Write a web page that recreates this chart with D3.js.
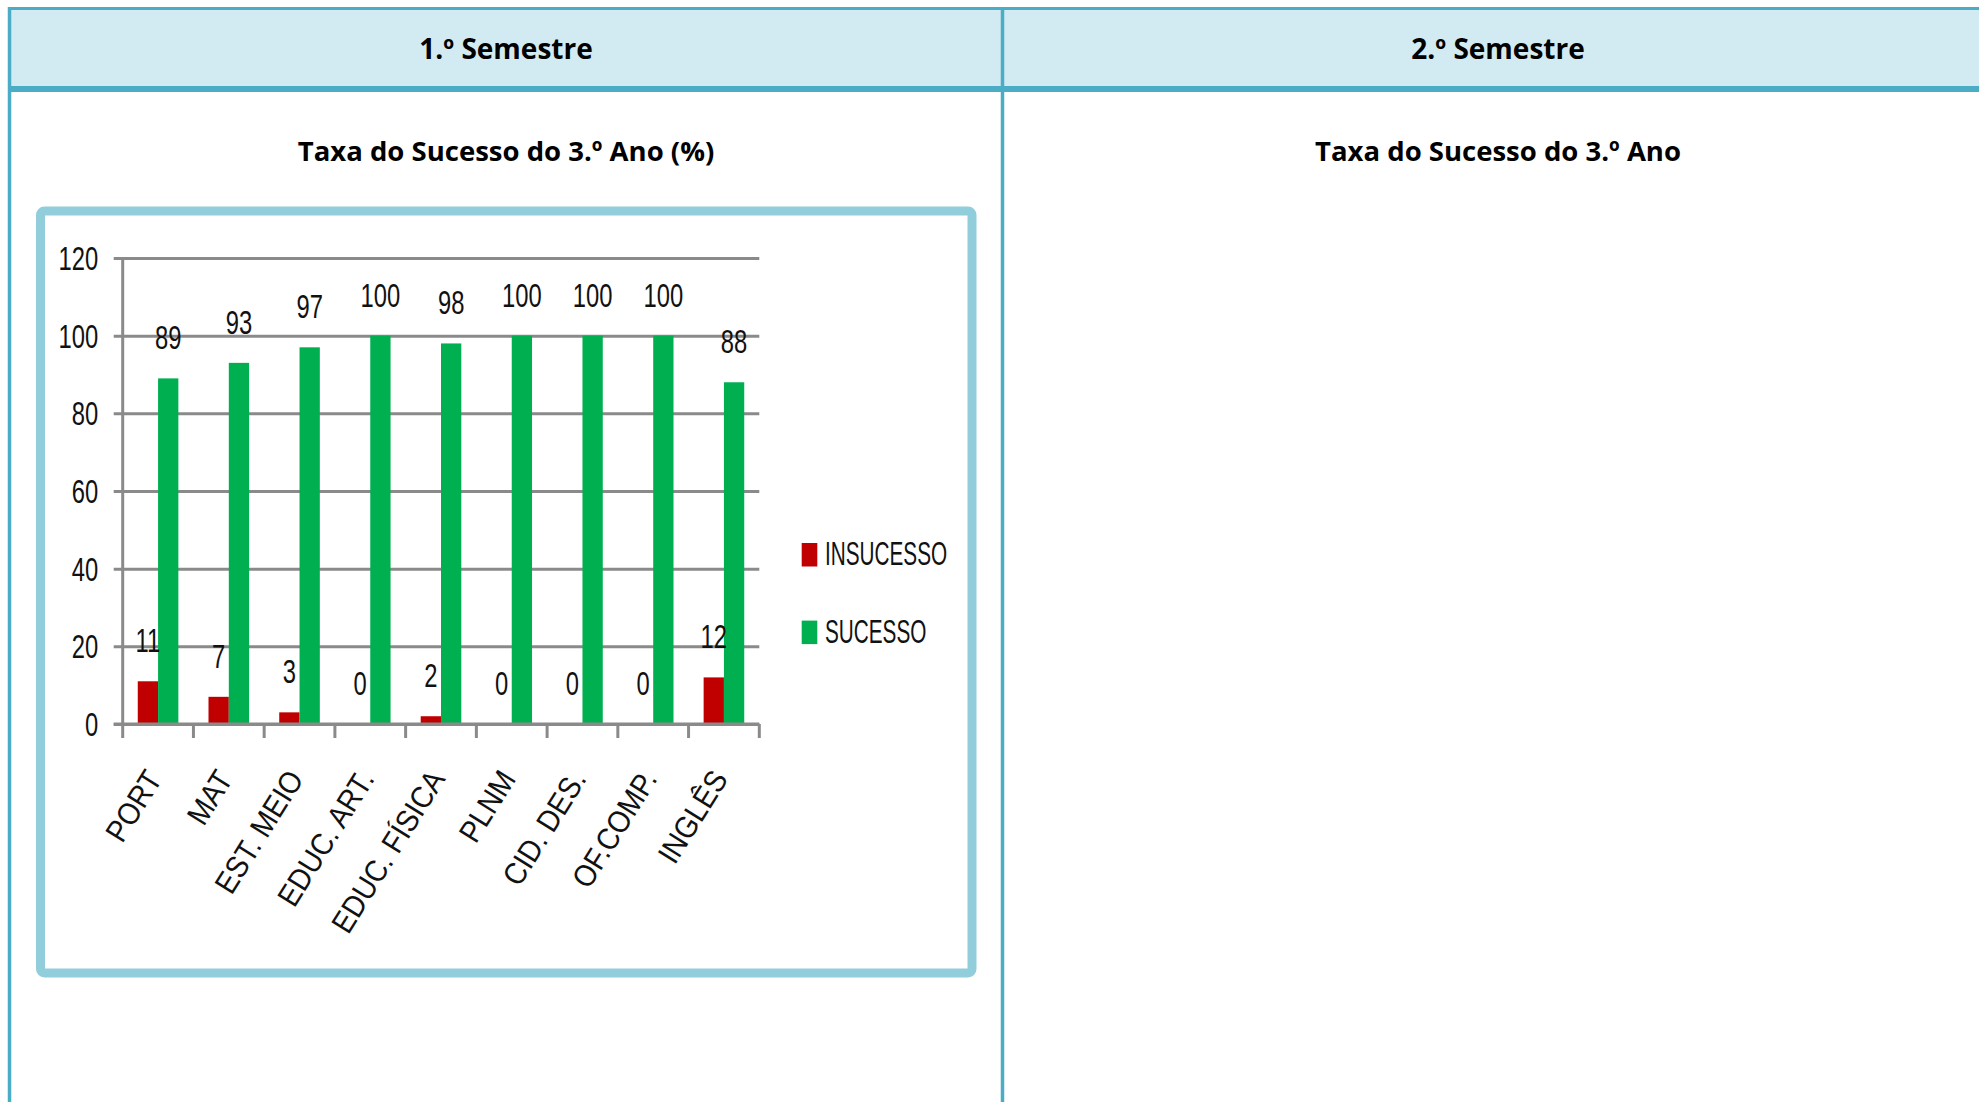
<!DOCTYPE html>
<html>
<head>
<meta charset="utf-8">
<script src="https://cdn.jsdelivr.net/npm/d3@7"></script>
<style>
  body { margin: 0; background: #fff; }
  svg { display: block; }
</style>
</head>
<body>
<svg id="page" width="1979" height="1102"></svg>
<script>
    // chart data
    var categories = ["PORT", "MAT", "EST. MEIO", "EDUC. ART.", "EDUC. FÍSICA", "PLNM", "CID. DES.", "OF.COMP.", "INGLÊS"];
    var insucesso = [11, 7, 3, 0, 2, 0, 0, 0, 12];
    var sucesso = [89, 93, 97, 100, 98, 100, 100, 100, 88];
    var seriesNames = ["INSUCESSO", "SUCESSO"];
    var yTicks = [0, 20, 40, 60, 80, 100, 120];
    var semesters = ["1.º Semestre", "2.º Semestre"];
    var chartTitles = ["Taxa do Sucesso do 3.º Ano (%)", "Taxa do Sucesso do 3.º Ano"];

    var colors = ["#c00000", "#00b050"];
    var tableBlue = "#4bacc6";
    var headerFill = "#d2eaf1";
    var frameBlue = "#92cddc";
    var gridGray = "#8a8a8a";
    var chartFont = "'Liberation Sans', Arial, sans-serif";

    var svg = d3.select("#page");

    // table layout
    var colX = [9.5, 1002.5];
    var colCenter = [506, 1498];

    svg.append("rect")
        .attr("x", 9.5).attr("y", 8.5)
        .attr("width", 1979).attr("height", 80.5)
        .attr("fill", headerFill);

    svg.append("line")
        .attr("x1", 8).attr("x2", 1979)
        .attr("y1", 8.5).attr("y2", 8.5)
        .attr("stroke", tableBlue).attr("stroke-width", 3);

    svg.append("line")
        .attr("x1", 8).attr("x2", 1979)
        .attr("y1", 89).attr("y2", 89)
        .attr("stroke", tableBlue).attr("stroke-width", 6);

    svg.selectAll(".colline")
        .data(colX)
        .enter().append("line")
        .attr("class", "colline")
        .attr("x1", function(d) { return d; })
        .attr("x2", function(d) { return d; })
        .attr("y1", 7).attr("y2", 1102)
        .attr("stroke", tableBlue).attr("stroke-width", 3.5);

    svg.selectAll(".semester")
        .data(semesters)
        .enter().append("text")
        .attr("class", "semester")
        .attr("x", function(d, i) { return colCenter[i]; })
        .attr("y", 59)
        .attr("text-anchor", "middle")
        .style("font-family", "'Open Sans', sans-serif")
        .style("font-weight", 700)
        .style("font-size", "28px")
        .text(function(d) { return d; });

    svg.selectAll(".ctitle")
        .data(chartTitles)
        .enter().append("text")
        .attr("class", "ctitle")
        .attr("x", function(d, i) { return colCenter[i]; })
        .attr("y", 161)
        .attr("text-anchor", "middle")
        .style("font-family", "'Open Sans', sans-serif")
        .style("font-weight", 700)
        .style("font-size", "27.5px")
        .text(function(d) { return d; });

    // chart frame
    svg.append("rect")
        .attr("x", 40.5).attr("y", 211)
        .attr("width", 931.5).attr("height", 762)
        .attr("rx", 4)
        .attr("fill", "#fff")
        .attr("stroke", frameBlue)
        .attr("stroke-width", 9);

    // scales
    var x0 = d3.scaleBand()
        .domain(categories)
        .range([122.7, 759.3])
        .paddingInner(0.426)
        .paddingOuter(0.213);

    var x1 = d3.scaleBand()
        .domain(seriesNames)
        .range([0, x0.bandwidth()]);

    var y = d3.scaleLinear()
        .domain([0, 120])
        .range([724, 258]);

    var plotLeft = 122.7, plotRight = 759.3;
    var sx = 0.7;   // squeeze for the narrow chart digits

    // gridlines + y axis
    var yAxis = svg.append("g")
        .attr("transform", "translate(" + plotLeft + ",0)")
        .call(d3.axisLeft(y).tickValues(yTicks).tickSize(-(plotRight - plotLeft)).tickFormat(""));
    yAxis.select(".domain").remove();
    yAxis.selectAll(".tick line")
        .attr("x1", -9)
        .attr("stroke", gridGray)
        .attr("stroke-width", 3);

    svg.append("line")
        .attr("x1", plotLeft).attr("x2", plotLeft)
        .attr("y1", y(120)).attr("y2", y(0))
        .attr("stroke", gridGray).attr("stroke-width", 3);

    svg.selectAll(".ylabel")
        .data(yTicks)
        .enter().append("text")
        .attr("class", "ylabel")
        .attr("text-anchor", "end")
        .attr("transform", function(d) { return "translate(98.3," + (y(d) + 12) + ") scale(" + sx + ",1)"; })
        .style("font-family", chartFont)
        .style("font-size", "34px")
        .attr("fill", "#111")
        .text(function(d) { return d; });

    // category ticks below the x axis
    var bounds = categories.map(function(c) { return x0(c) - x0.step() * x0.paddingInner() / 2; });
    bounds.push(plotRight);
    svg.selectAll(".xtick")
        .data(bounds)
        .enter().append("line")
        .attr("class", "xtick")
        .attr("x1", function(d) { return d; })
        .attr("x2", function(d) { return d; })
        .attr("y1", y(0)).attr("y2", y(0) + 14)
        .attr("stroke", gridGray).attr("stroke-width", 3);

    // bars
    var rows = categories.map(function(c, i) {
        return { cat: c, values: [insucesso[i], sucesso[i]] };
    });

    var groups = svg.selectAll(".cat")
        .data(rows)
        .enter().append("g")
        .attr("class", "cat")
        .attr("transform", function(d) { return "translate(" + x0(d.cat) + ",0)"; });

    groups.selectAll("rect")
        .data(function(d) { return d.values; })
        .enter().append("rect")
        .attr("x", function(d, i) { return x1(seriesNames[i]); })
        .attr("y", function(d) { return y(d); })
        .attr("width", x1.bandwidth())
        .attr("height", function(d) { return y(0) - y(d); })
        .attr("fill", function(d, i) { return colors[i]; });

    groups.selectAll("text")
        .data(function(d) { return d.values; })
        .enter().append("text")
        .attr("text-anchor", "middle")
        .attr("transform", function(d, i) {
            return "translate(" + (x1(seriesNames[i]) + x1.bandwidth() / 2) + "," + (y(d) - 29) + ") scale(" + sx + ",1)";
        })
        .style("font-family", chartFont)
        .style("font-size", "34px")
        .attr("fill", "#111")
        .text(function(d) { return d; });

    // x axis line
    svg.append("line")
        .attr("x1", plotLeft - 9).attr("x2", plotRight)
        .attr("y1", y(0)).attr("y2", y(0))
        .attr("stroke", gridGray).attr("stroke-width", 3);

    // rotated category labels
    svg.selectAll(".xlabel")
        .data(categories)
        .enter().append("text")
        .attr("class", "xlabel")
        .attr("text-anchor", "end")
        .attr("transform", function(d) {
            return "translate(" + (x0(d) + x0.bandwidth() / 2 + 5) + ",779) rotate(-58) scale(0.9,1)";
        })
        .style("font-family", chartFont)
        .style("font-size", "31px")
        .attr("fill", "#111")
        .text(function(d) { return d; });

    // legend
    var legend = svg.selectAll(".legend")
        .data(seriesNames)
        .enter().append("g")
        .attr("class", "legend")
        .attr("transform", function(d, i) { return "translate(801.7," + (543 + i * 77.6) + ")"; });

    legend.append("rect")
        .attr("width", 15.6)
        .attr("height", 23.5)
        .attr("fill", function(d, i) { return colors[i]; });

    legend.append("text")
        .attr("transform", "translate(23.3,22) scale(0.61,1)")
        .style("font-family", chartFont)
        .style("font-size", "34px")
        .attr("fill", "#111")
        .text(function(d) { return d; });
</script>
</body>
</html>
